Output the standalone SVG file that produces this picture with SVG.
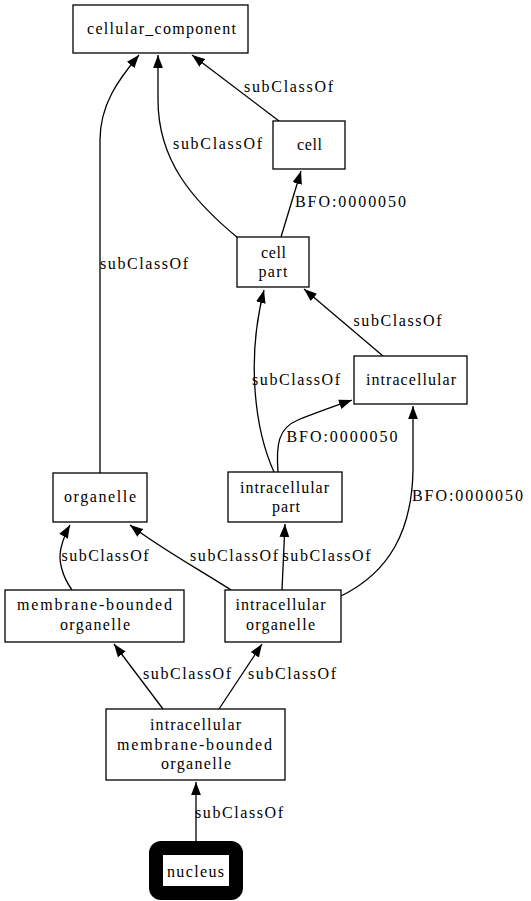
<svg xmlns="http://www.w3.org/2000/svg" width="531" height="901" viewBox="0 0 531 901">
<style>
text{font-family:"Liberation Serif","Times New Roman",serif;font-size:16px;fill:#000;text-anchor:middle}
.n rect{fill:#fff;stroke:#000;stroke-width:1.3}
.e path{fill:none;stroke:#000;stroke-width:1.3;marker-end:url(#ah)}
</style>
<defs>
<marker id="ah" markerUnits="userSpaceOnUse" markerWidth="13" markerHeight="10" refX="12" refY="4.5" orient="auto" viewBox="0 0 12 9">
<path d="M0,0 L12,4.5 L0,9 z" fill="#000"/>
</marker>
</defs>
<rect width="531" height="901" fill="#fff"/>
<g id="edges" class="e">
<path d="M279,121 L192,55"/>
<path d="M238,238 C192,200 158,160 158,100 L158,55"/>
<path d="M100,473 L100,140 C100,105 118,80 139,55"/>
<path d="M281,237 L301,171"/>
<path d="M383,356 L304,289"/>
<path d="M274,472 C255,430 246,360 264,290"/>
<path d="M278,472 C276,445 278,428 298,420 C315,413 335,406 352,400"/>
<path d="M341,596 C390,572 412,530 413,470 L413,406"/>
<path d="M72,590 C62,576 58,560 61,548 C63,540 66,532 70,525"/>
<path d="M231,590 C200,570 160,548 130,525"/>
<path d="M282,590 L285,524"/>
<path d="M163,709 L114,644"/>
<path d="M219,709 L262,644"/>
<path d="M196,842 L196,782"/>
<text x="288.5" y="92" textLength="89" lengthAdjust="spacing">subClassOf</text>
<text x="217.5" y="149" textLength="89" lengthAdjust="spacing">subClassOf</text>
<text x="144" y="269" textLength="88" lengthAdjust="spacing">subClassOf</text>
<text x="350.5" y="207" textLength="111" lengthAdjust="spacing">BFO:0000050</text>
<text x="397.5" y="326" textLength="88" lengthAdjust="spacing">subClassOf</text>
<text x="296" y="385" textLength="88" lengthAdjust="spacing">subClassOf</text>
<text x="342" y="442" textLength="111" lengthAdjust="spacing">BFO:0000050</text>
<text x="467.5" y="501" textLength="111" lengthAdjust="spacing">BFO:0000050</text>
<text x="105" y="561" textLength="87" lengthAdjust="spacing">subClassOf</text>
<text x="234" y="561" textLength="88" lengthAdjust="spacing">subClassOf</text>
<text x="326.5" y="561" textLength="88" lengthAdjust="spacing">subClassOf</text>
<text x="187" y="679" textLength="88" lengthAdjust="spacing">subClassOf</text>
<text x="292" y="679" textLength="88" lengthAdjust="spacing">subClassOf</text>
<text x="239" y="818" textLength="88" lengthAdjust="spacing">subClassOf</text>
</g>
<g id="cellular_component" class="n">
<rect x="73" y="5" width="175" height="48"/>
<text x="161.5" y="34" textLength="149" lengthAdjust="spacing">cellular_component</text>
</g>
<g id="cell" class="n">
<rect x="273" y="121" width="72" height="48"/>
<text x="309.5" y="150" textLength="25" lengthAdjust="spacing">cell</text>
</g>
<g id="cell_part" class="n">
<rect x="237" y="237" width="72" height="50"/>
<text x="273.5" y="258" textLength="25" lengthAdjust="spacing">cell</text>
<text x="273" y="277" textLength="29" lengthAdjust="spacing">part</text>
</g>
<g id="intracellular" class="n">
<rect x="354" y="356" width="113" height="48"/>
<text x="411" y="385" textLength="90" lengthAdjust="spacing">intracellular</text>
</g>
<g id="intracellular_part" class="n">
<rect x="228" y="472" width="114" height="50"/>
<text x="284.5" y="493" textLength="89" lengthAdjust="spacing">intracellular</text>
<text x="286" y="512" textLength="28" lengthAdjust="spacing">part</text>
</g>
<g id="organelle" class="n">
<rect x="53" y="473" width="94" height="49"/>
<text x="100" y="502" textLength="72" lengthAdjust="spacing">organelle</text>
</g>
<g id="membrane_bounded_organelle" class="n">
<rect x="5" y="590" width="179" height="52"/>
<text x="94.5" y="610" textLength="155" lengthAdjust="spacing">membrane-bounded</text>
<text x="95" y="630" textLength="70" lengthAdjust="spacing">organelle</text>
</g>
<g id="intracellular_organelle" class="n">
<rect x="225" y="590" width="116" height="52"/>
<text x="280.5" y="610" textLength="90" lengthAdjust="spacing">intracellular</text>
<text x="280.5" y="630" textLength="69" lengthAdjust="spacing">organelle</text>
</g>
<g id="intracellular_membrane_bounded_organelle" class="n">
<rect x="106" y="709" width="179" height="71"/>
<text x="195.5" y="730" textLength="91" lengthAdjust="spacing">intracellular</text>
<text x="194.5" y="750" textLength="155" lengthAdjust="spacing">membrane-bounded</text>
<text x="196" y="769" textLength="70" lengthAdjust="spacing">organelle</text>
</g>
<g id="nucleus">
<rect x="156" y="848" width="80" height="45" rx="5" fill="#fff" stroke="#000" stroke-width="14"/>
<text x="195.5" y="877" textLength="57" lengthAdjust="spacing">nucleus</text>
</g>
</svg>
